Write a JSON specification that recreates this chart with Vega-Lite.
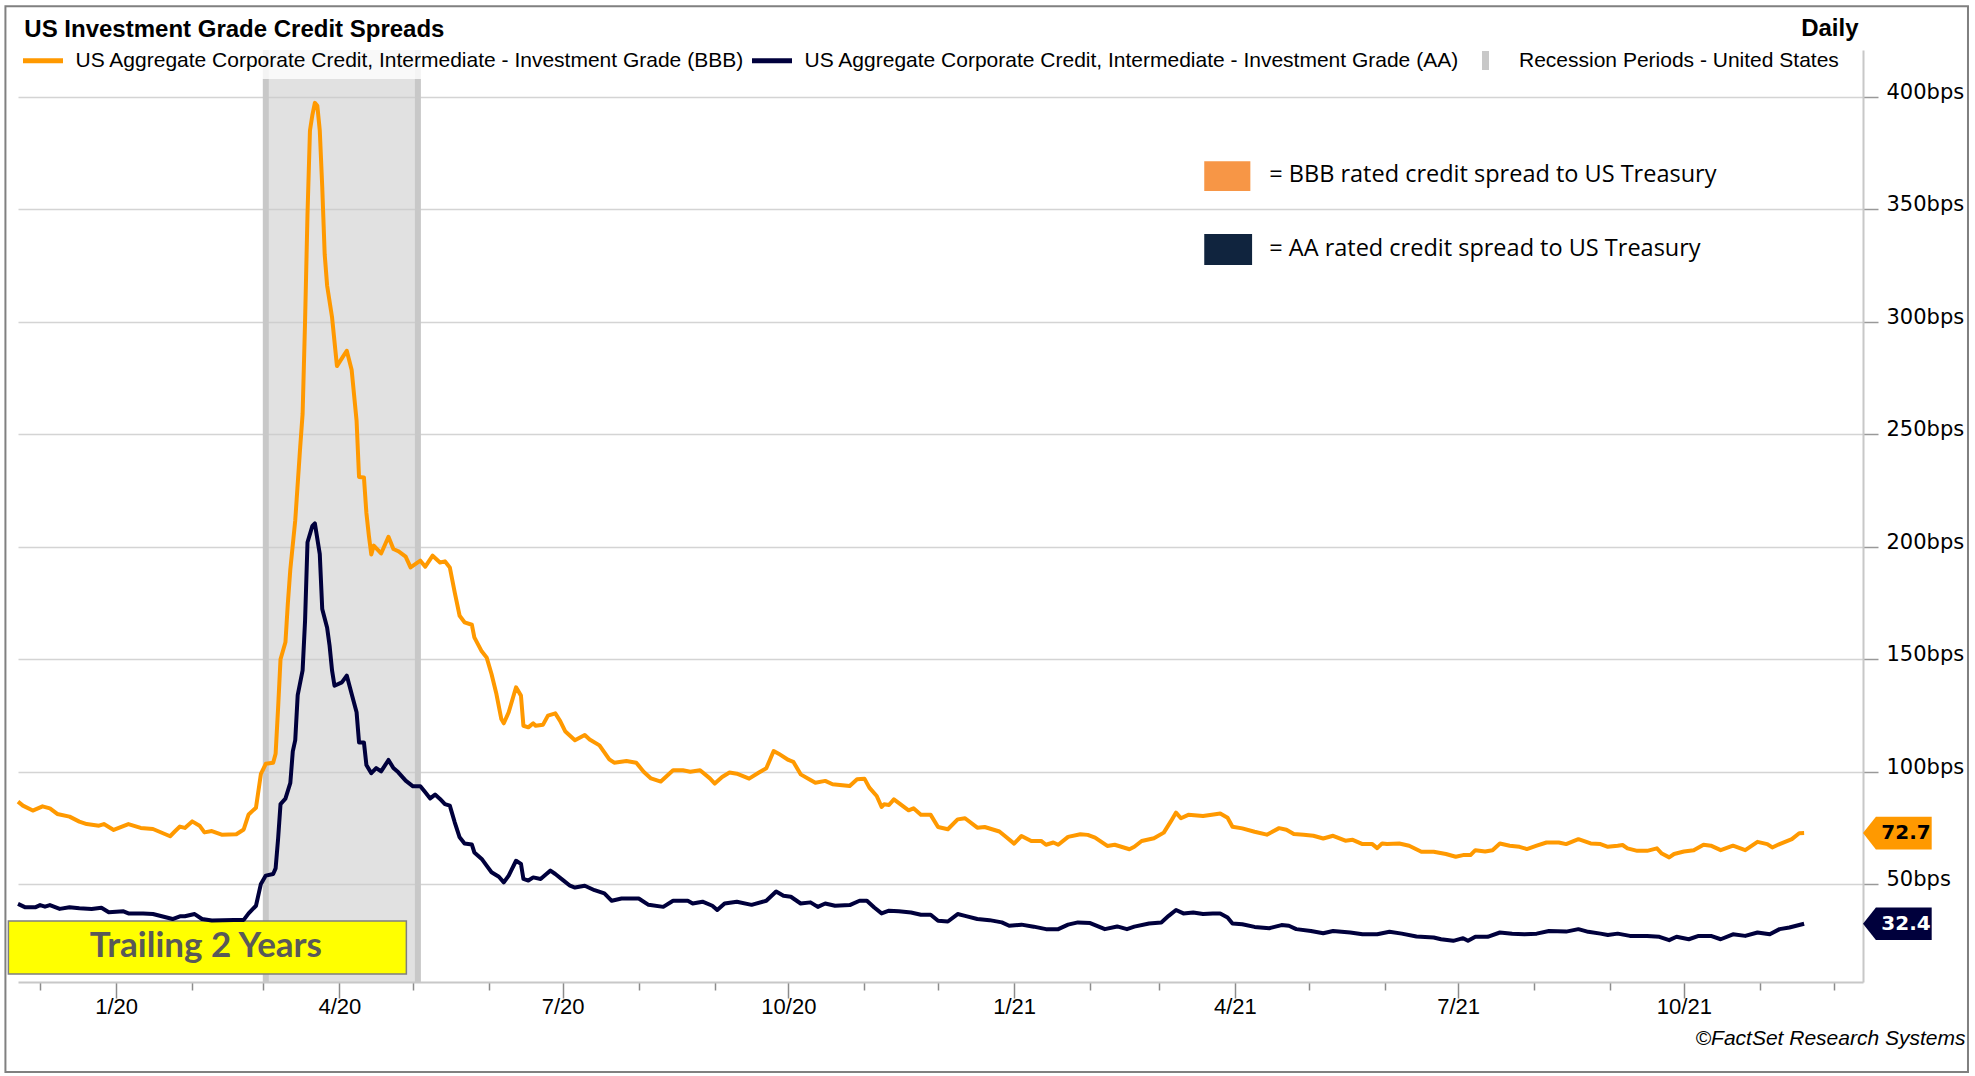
{
  "$schema": "https://vega.github.io/schema/vega-lite/v6.json",
  "width": 1845,
  "height": 932,
  "autosize": {"type": "none"},
  "padding": {"left": 18, "top": 50, "right": 112, "bottom": 94},
  "background": "white",
  "datasets": {
    "rec": [{"start": "2020-03-02", "end": "2020-05-03"}],
    "bbb": [
      {"d":"2019-11-22","v":86.7},{"d":"2019-11-24","v":84.9},{"d":"2019-11-28","v":82.7},{"d":"2019-12-02","v":84.6},{"d":"2019-12-05","v":83.7},{"d":"2019-12-08","v":81.2},{"d":"2019-12-13","v":80},{"d":"2019-12-17","v":77.8},{"d":"2019-12-20","v":76.7},{"d":"2019-12-25","v":76},{"d":"2019-12-27","v":76.7},{"d":"2019-12-31","v":74.1},
      {"d":"2020-01-06","v":76.7},{"d":"2020-01-11","v":75},{"d":"2020-01-16","v":74.5},{"d":"2020-01-23","v":71.3},{"d":"2020-01-25","v":73.5},{"d":"2020-01-27","v":75.6},{"d":"2020-01-29","v":75},{"d":"2020-02-01","v":77.9},{"d":"2020-02-04","v":76},{"d":"2020-02-06","v":73},{"d":"2020-02-09","v":73.6},{"d":"2020-02-13","v":72},{"d":"2020-02-19","v":72.2},{"d":"2020-02-22","v":74.3},{"d":"2020-02-24","v":81},{"d":"2020-02-27","v":84},{"d":"2020-02-29","v":99},
      {"d":"2020-03-02","v":103.5},{"d":"2020-03-05","v":104},{"d":"2020-03-06","v":108},{"d":"2020-03-07","v":128},{"d":"2020-03-08","v":150},{"d":"2020-03-10","v":157.5},{"d":"2020-03-11","v":175},{"d":"2020-03-12","v":190},{"d":"2020-03-14","v":211.7},{"d":"2020-03-16","v":244},{"d":"2020-03-17","v":259},{"d":"2020-03-18","v":300},{"d":"2020-03-19","v":348},{"d":"2020-03-20","v":385},{"d":"2020-03-21","v":392},{"d":"2020-03-22","v":397.3},{"d":"2020-03-23","v":396},{"d":"2020-03-24","v":385},{"d":"2020-03-25","v":360},{"d":"2020-03-26","v":330},{"d":"2020-03-27","v":316},{"d":"2020-03-29","v":302},{"d":"2020-03-31","v":280.3},
      {"d":"2020-04-02","v":283.7},{"d":"2020-04-04","v":287.1},{"d":"2020-04-06","v":278.5},{"d":"2020-04-08","v":256},{"d":"2020-04-09","v":231},{"d":"2020-04-11","v":230.8},{"d":"2020-04-12","v":215},{"d":"2020-04-13","v":205},{"d":"2020-04-14","v":196.5},{"d":"2020-04-15","v":200.5},{"d":"2020-04-18","v":197},{"d":"2020-04-21","v":204.4},{"d":"2020-04-23","v":199},{"d":"2020-04-25","v":198},{"d":"2020-04-28","v":195.6},{"d":"2020-04-30","v":190.8},
      {"d":"2020-05-04","v":193.8},{"d":"2020-05-06","v":191.1},{"d":"2020-05-09","v":196},{"d":"2020-05-12","v":193},{"d":"2020-05-14","v":193.5},{"d":"2020-05-16","v":190.8},{"d":"2020-05-18","v":179.7},{"d":"2020-05-20","v":169.3},{"d":"2020-05-22","v":166.4},{"d":"2020-05-25","v":165.3},{"d":"2020-05-26","v":159.7},{"d":"2020-05-29","v":153.5},{"d":"2020-05-31","v":150.8},
      {"d":"2020-06-02","v":143.4},{"d":"2020-06-04","v":134.5},{"d":"2020-06-06","v":123.4},{"d":"2020-06-07","v":121.5},{"d":"2020-06-09","v":126.4},{"d":"2020-06-12","v":137.5},{"d":"2020-06-14","v":133.8},{"d":"2020-06-15","v":120.4},{"d":"2020-06-17","v":119.7},{"d":"2020-06-19","v":121.5},{"d":"2020-06-20","v":120.4},{"d":"2020-06-23","v":120.9},{"d":"2020-06-25","v":124.9},{"d":"2020-06-28","v":125.9},{"d":"2020-06-30","v":122.5},
      {"d":"2020-07-02","v":118},{"d":"2020-07-04","v":116},{"d":"2020-07-06","v":114},{"d":"2020-07-10","v":116.3},{"d":"2020-07-12","v":114.3},{"d":"2020-07-16","v":111.7},{"d":"2020-07-20","v":105.5},{"d":"2020-07-22","v":104},{"d":"2020-07-27","v":104.7},{"d":"2020-07-31","v":104},
      {"d":"2020-08-03","v":100},{"d":"2020-08-06","v":97},{"d":"2020-08-10","v":95.6},{"d":"2020-08-15","v":100.6},{"d":"2020-08-19","v":100.6},{"d":"2020-08-22","v":100},{"d":"2020-08-26","v":100.6},{"d":"2020-08-30","v":97},
      {"d":"2020-09-01","v":94.7},{"d":"2020-09-04","v":97.6},{"d":"2020-09-07","v":99.6},{"d":"2020-09-10","v":99.1},{"d":"2020-09-15","v":96.9},{"d":"2020-09-19","v":99.6},{"d":"2020-09-22","v":101.5},{"d":"2020-09-25","v":109.2},{"d":"2020-09-27","v":108},
      {"d":"2020-10-01","v":105.2},{"d":"2020-10-03","v":104.4},{"d":"2020-10-06","v":98.8},{"d":"2020-10-10","v":96.3},{"d":"2020-10-12","v":95.1},{"d":"2020-10-16","v":95.9},{"d":"2020-10-19","v":94.4},{"d":"2020-10-22","v":94.1},{"d":"2020-10-26","v":93.6},{"d":"2020-10-29","v":96.6},
      {"d":"2020-11-01","v":96.9},{"d":"2020-11-03","v":92.9},{"d":"2020-11-06","v":89.2},{"d":"2020-11-08","v":84.3},{"d":"2020-11-09","v":85.5},{"d":"2020-11-11","v":85.2},{"d":"2020-11-13","v":87.7},{"d":"2020-11-16","v":85.2},{"d":"2020-11-19","v":82.8},{"d":"2020-11-21","v":83.7},{"d":"2020-11-24","v":80.8},{"d":"2020-11-28","v":80.8},
      {"d":"2020-12-01","v":75.4},{"d":"2020-12-05","v":74.4},{"d":"2020-12-09","v":78.8},{"d":"2020-12-12","v":79.3},{"d":"2020-12-17","v":75.1},{"d":"2020-12-20","v":75.4},{"d":"2020-12-26","v":73.4},{"d":"2020-12-29","v":70.7},
      {"d":"2021-01-01","v":68},{"d":"2021-01-04","v":71.4},{"d":"2021-01-08","v":69.2},{"d":"2021-01-12","v":69.2},{"d":"2021-01-14","v":67.5},{"d":"2021-01-17","v":68.5},{"d":"2021-01-19","v":67.5},{"d":"2021-01-23","v":71},{"d":"2021-01-28","v":72.2},{"d":"2021-01-31","v":71.9},
      {"d":"2021-02-03","v":70.7},{"d":"2021-02-08","v":67},{"d":"2021-02-11","v":67.5},{"d":"2021-02-17","v":65.5},{"d":"2021-02-19","v":66.6},{"d":"2021-02-22","v":69.2},{"d":"2021-02-27","v":70.4},
      {"d":"2021-03-03","v":72.9},{"d":"2021-03-06","v":78.1},{"d":"2021-03-08","v":81.8},{"d":"2021-03-10","v":79.3},{"d":"2021-03-13","v":80.8},{"d":"2021-03-19","v":80.3},{"d":"2021-03-24","v":81.1},{"d":"2021-03-26","v":81.4},{"d":"2021-03-29","v":79.5},{"d":"2021-03-31","v":75.5},
      {"d":"2021-04-04","v":74.8},{"d":"2021-04-09","v":73.3},{"d":"2021-04-14","v":72},{"d":"2021-04-19","v":74.9},{"d":"2021-04-22","v":74.2},{"d":"2021-04-25","v":72.3},{"d":"2021-04-29","v":72},
      {"d":"2021-05-03","v":71.5},{"d":"2021-05-07","v":70.3},{"d":"2021-05-11","v":71.5},{"d":"2021-05-16","v":69.3},{"d":"2021-05-19","v":69.7},{"d":"2021-05-23","v":67.8},{"d":"2021-05-27","v":67.8},{"d":"2021-05-29","v":66},{"d":"2021-05-31","v":68.1},
      {"d":"2021-06-02","v":67.8},{"d":"2021-06-07","v":68.1},{"d":"2021-06-11","v":67.1},{"d":"2021-06-16","v":64.4},{"d":"2021-06-21","v":64.4},{"d":"2021-06-26","v":63.4},{"d":"2021-06-30","v":62.2},
      {"d":"2021-07-03","v":62.9},{"d":"2021-07-06","v":62.9},{"d":"2021-07-08","v":65.1},{"d":"2021-07-12","v":64.5},{"d":"2021-07-15","v":65.1},{"d":"2021-07-18","v":68.1},{"d":"2021-07-22","v":67.1},{"d":"2021-07-26","v":66.6},{"d":"2021-07-29","v":65.6},
      {"d":"2021-08-02","v":67.1},{"d":"2021-08-06","v":68.5},{"d":"2021-08-11","v":68.5},{"d":"2021-08-14","v":67.8},{"d":"2021-08-19","v":70},{"d":"2021-08-24","v":68.1},{"d":"2021-08-28","v":67.8},{"d":"2021-08-31","v":66.6},
      {"d":"2021-09-04","v":67.1},{"d":"2021-09-06","v":67.4},{"d":"2021-09-08","v":65.9},{"d":"2021-09-12","v":64.8},{"d":"2021-09-16","v":64.8},{"d":"2021-09-20","v":65.9},{"d":"2021-09-22","v":63.6},{"d":"2021-09-25","v":61.9},{"d":"2021-09-27","v":63.4},
      {"d":"2021-10-01","v":64.5},{"d":"2021-10-05","v":65.1},{"d":"2021-10-09","v":67.5},{"d":"2021-10-12","v":67.1},{"d":"2021-10-16","v":65.1},{"d":"2021-10-21","v":67.1},{"d":"2021-10-26","v":65.1},{"d":"2021-10-31","v":68.8},
      {"d":"2021-11-04","v":67.8},{"d":"2021-11-06","v":66.3},{"d":"2021-11-09","v":67.8},{"d":"2021-11-14","v":70},{"d":"2021-11-17","v":72.6},{"d":"2021-11-19","v":72.7}
    ],
    "aa": [
      {"d":"2019-11-22","v":41.2},{"d":"2019-11-25","v":39.7},{"d":"2019-11-29","v":39.7},{"d":"2019-12-01","v":40.7},{"d":"2019-12-03","v":40},{"d":"2019-12-05","v":40.7},{"d":"2019-12-09","v":39},{"d":"2019-12-13","v":39.7},{"d":"2019-12-17","v":39.3},{"d":"2019-12-22","v":39},{"d":"2019-12-26","v":39.5},{"d":"2019-12-29","v":37.5},
      {"d":"2020-01-04","v":37.9},{"d":"2020-01-06","v":37},{"d":"2020-01-12","v":37},{"d":"2020-01-16","v":36.7},{"d":"2020-01-24","v":34.5},{"d":"2020-01-27","v":35.7},{"d":"2020-01-29","v":35.7},{"d":"2020-02-02","v":36.7},{"d":"2020-02-05","v":34.5},{"d":"2020-02-09","v":33.8},{"d":"2020-02-18","v":34.1},{"d":"2020-02-22","v":34.1},{"d":"2020-02-24","v":37},{"d":"2020-02-27","v":40.4},{"d":"2020-02-29","v":50.1},
      {"d":"2020-03-02","v":53.8},{"d":"2020-03-05","v":54.5},{"d":"2020-03-06","v":57},{"d":"2020-03-07","v":70},{"d":"2020-03-08","v":85.6},{"d":"2020-03-10","v":88},{"d":"2020-03-12","v":95},{"d":"2020-03-13","v":109},{"d":"2020-03-14","v":114},{"d":"2020-03-15","v":134},{"d":"2020-03-17","v":145},{"d":"2020-03-18","v":167},{"d":"2020-03-19","v":202},{"d":"2020-03-21","v":209.3},{"d":"2020-03-22","v":210.4},{"d":"2020-03-24","v":196.7},{"d":"2020-03-25","v":172.3},{"d":"2020-03-27","v":164},{"d":"2020-03-28","v":156},{"d":"2020-03-29","v":145},{"d":"2020-03-30","v":138.2},
      {"d":"2020-04-02","v":139.7},{"d":"2020-04-04","v":142.7},{"d":"2020-04-06","v":134.5},{"d":"2020-04-08","v":126.4},{"d":"2020-04-09","v":113},{"d":"2020-04-11","v":113},{"d":"2020-04-12","v":103},{"d":"2020-04-14","v":99.3},{"d":"2020-04-16","v":101.6},{"d":"2020-04-18","v":100.1},{"d":"2020-04-21","v":105.2},{"d":"2020-04-23","v":101.6},{"d":"2020-04-25","v":99.7},{"d":"2020-04-28","v":96},
      {"d":"2020-05-01","v":93.5},{"d":"2020-05-04","v":93.5},{"d":"2020-05-06","v":90.8},{"d":"2020-05-08","v":88.1},{"d":"2020-05-10","v":89.8},{"d":"2020-05-12","v":87.9},{"d":"2020-05-14","v":85.6},{"d":"2020-05-16","v":84.9},{"d":"2020-05-18","v":77.5},{"d":"2020-05-20","v":70.8},{"d":"2020-05-22","v":68.1},{"d":"2020-05-25","v":67.6},{"d":"2020-05-26","v":64.1},{"d":"2020-05-29","v":61.2},{"d":"2020-05-31","v":58.2},
      {"d":"2020-06-02","v":55.3},{"d":"2020-06-05","v":53.3},{"d":"2020-06-07","v":50.8},{"d":"2020-06-09","v":53.8},{"d":"2020-06-10","v":56},{"d":"2020-06-12","v":60.4},{"d":"2020-06-14","v":59},{"d":"2020-06-15","v":52.3},{"d":"2020-06-17","v":51.6},{"d":"2020-06-19","v":53},{"d":"2020-06-22","v":52.3},{"d":"2020-06-24","v":54.2},{"d":"2020-06-26","v":56},{"d":"2020-06-28","v":54.5},
      {"d":"2020-07-01","v":51.9},{"d":"2020-07-04","v":49.3},{"d":"2020-07-06","v":48.5},{"d":"2020-07-10","v":49.3},{"d":"2020-07-14","v":47.3},{"d":"2020-07-18","v":45.9},{"d":"2020-07-21","v":42.6},{"d":"2020-07-25","v":43.6},
      {"d":"2020-08-01","v":43.6},{"d":"2020-08-05","v":40.8},{"d":"2020-08-11","v":39.9},{"d":"2020-08-15","v":42.6},{"d":"2020-08-21","v":42.6},{"d":"2020-08-23","v":41.4},{"d":"2020-08-27","v":42.2},{"d":"2020-08-31","v":40.4},
      {"d":"2020-09-02","v":38.5},{"d":"2020-09-05","v":41.4},{"d":"2020-09-10","v":42.2},{"d":"2020-09-16","v":40.8},{"d":"2020-09-22","v":42.6},{"d":"2020-09-26","v":46.7},{"d":"2020-09-29","v":44.8},
      {"d":"2020-10-02","v":44.4},{"d":"2020-10-06","v":41.4},{"d":"2020-10-10","v":41.9},{"d":"2020-10-13","v":39.9},{"d":"2020-10-16","v":41.4},{"d":"2020-10-20","v":40.4},{"d":"2020-10-26","v":40.7},{"d":"2020-10-30","v":42.6},
      {"d":"2020-11-02","v":42.6},{"d":"2020-11-05","v":39.6},{"d":"2020-11-08","v":37},{"d":"2020-11-11","v":38.2},{"d":"2020-11-15","v":37.9},{"d":"2020-11-20","v":37.4},{"d":"2020-11-24","v":36.4},{"d":"2020-11-28","v":36.4},
      {"d":"2020-12-01","v":33.7},{"d":"2020-12-05","v":33.4},{"d":"2020-12-09","v":36.7},{"d":"2020-12-12","v":35.9},{"d":"2020-12-17","v":34.5},{"d":"2020-12-22","v":34},{"d":"2020-12-27","v":33},{"d":"2020-12-30","v":31.5},
      {"d":"2021-01-04","v":32},{"d":"2021-01-09","v":31.1},{"d":"2021-01-14","v":30},{"d":"2021-01-19","v":30},{"d":"2021-01-23","v":32},{"d":"2021-01-27","v":33},
      {"d":"2021-02-01","v":32.7},{"d":"2021-02-07","v":30},{"d":"2021-02-12","v":31.2},{"d":"2021-02-16","v":30},{"d":"2021-02-19","v":31.1},{"d":"2021-02-25","v":32.5},
      {"d":"2021-03-02","v":33},{"d":"2021-03-05","v":35.9},{"d":"2021-03-08","v":38.5},{"d":"2021-03-11","v":37},{"d":"2021-03-15","v":37.4},{"d":"2021-03-19","v":36.7},{"d":"2021-03-23","v":37},{"d":"2021-03-26","v":37},{"d":"2021-03-29","v":35.2},{"d":"2021-03-31","v":32.5},
      {"d":"2021-04-04","v":32.2},{"d":"2021-04-09","v":31},{"d":"2021-04-15","v":30.4},{"d":"2021-04-20","v":31.8},{"d":"2021-04-23","v":31.5},{"d":"2021-04-26","v":30},
      {"d":"2021-05-02","v":29.2},{"d":"2021-05-07","v":28.2},{"d":"2021-05-11","v":29.2},{"d":"2021-05-18","v":28.5},{"d":"2021-05-23","v":27.7},{"d":"2021-05-29","v":27.7},
      {"d":"2021-06-03","v":28.8},{"d":"2021-06-08","v":28},{"d":"2021-06-14","v":26.7},{"d":"2021-06-21","v":26.3},{"d":"2021-06-24","v":25.5},{"d":"2021-06-29","v":24.8},
      {"d":"2021-07-03","v":26},{"d":"2021-07-05","v":24.8},{"d":"2021-07-08","v":26.6},{"d":"2021-07-13","v":26.6},{"d":"2021-07-18","v":28.5},{"d":"2021-07-23","v":28},{"d":"2021-07-28","v":27.7},
      {"d":"2021-08-02","v":28},{"d":"2021-08-07","v":29.2},{"d":"2021-08-14","v":28.9},{"d":"2021-08-19","v":30},{"d":"2021-08-23","v":28.8},{"d":"2021-08-28","v":28},{"d":"2021-08-31","v":27.4},
      {"d":"2021-09-04","v":28},{"d":"2021-09-09","v":27},{"d":"2021-09-16","v":27},{"d":"2021-09-21","v":26.6},{"d":"2021-09-25","v":25.1},{"d":"2021-09-28","v":26.6},
      {"d":"2021-10-03","v":25.5},{"d":"2021-10-07","v":27},{"d":"2021-10-12","v":27},{"d":"2021-10-16","v":25.5},{"d":"2021-10-21","v":27.7},{"d":"2021-10-26","v":27},{"d":"2021-10-31","v":28.5},
      {"d":"2021-11-05","v":27.7},{"d":"2021-11-09","v":30},{"d":"2021-11-13","v":30.7},{"d":"2021-11-19","v":32.4}
    ]
  },
  "layer": [
    {
      "data": {"values": [{}]},
      "mark": {"type": "rect", "fillOpacity": 0, "stroke": "#808080", "strokeWidth": 2},
      "encoding": {
        "x": {"datum": {"year": 2019, "month": 11, "date": 16, "hours": 21, "utc": true}, "type": "temporal"},
        "x2": {"datum": {"year": 2022, "month": 1, "date": 24, "hours": 19, "utc": true}},
        "y": {"datum": 440.3, "type": "quantitative"},
        "y2": {"datum": -33.5}
      }
    },
    {
      "data": {"values": [{}]},
      "mark": {"type": "text", "text": "US Investment Grade Credit Spreads", "font": "Liberation Sans", "fontSize": 24, "fontWeight": "bold", "color": "#000000", "align": "left", "baseline": "middle"},
      "encoding": {
        "x": {"datum": {"year": 2019, "month": 11, "date": 24, "hours": 14, "utc": true}, "type": "temporal"},
        "y": {"datum": 429.6, "type": "quantitative"}
      }
    },
    {
      "data": {"name": "rec"},
      "mark": {"type": "rect", "fillOpacity": 0.55, "strokeWidth": 0},
      "encoding": {
        "x": {"field": "start", "type": "temporal"},
        "x2": {"field": "end"},
        "fill": {"datum": "Recession Periods - United States", "scale": {"range": ["#c8c8c8"]},
          "legend": {"orient": "none", "legendX": 1457, "legendY": 0, "title": null, "symbolType": "M-0.37,-1H0.37V1H-0.37Z", "symbolSize": 361, "symbolStrokeWidth": 0, "symbolOpacity": 1, "labelFont": "Liberation Sans", "labelFontSize": 21, "labelColor": "#000000", "labelOffset": 23, "padding": 0, "labelLimit": 1000}}
      }
    },
    {
      "data": {"name": "rec"},
      "mark": {"type": "rule", "color": "#c8c8c8", "strokeWidth": 6},
      "encoding": {"x": {"field": "start", "type": "temporal"}}
    },
    {
      "data": {"name": "rec"},
      "mark": {"type": "rule", "color": "#c8c8c8", "strokeWidth": 6},
      "encoding": {"x": {"field": "end", "type": "temporal"}}
    },
    {
      "data": {"values": [{}]},
      "mark": {"type": "rect", "fill": "#ffffff", "fillOpacity": 0.8, "strokeWidth": 0},
      "encoding": {
        "x": {"datum": {"year": 2019, "month": 11, "date": 22, "utc": true}, "type": "temporal"},
        "x2": {"datum": {"year": 2021, "month": 12, "date": 1, "utc": true}},
        "y": {"datum": 420.8, "type": "quantitative"},
        "y2": {"datum": 407.9}
      }
    },
    {
      "data": {"values": [{}]},
      "mark": {"type": "rect", "fill": "#ffff00", "stroke": "#7f7f7f", "strokeWidth": 1.5},
      "encoding": {
        "x": {"datum": {"year": 2019, "month": 11, "date": 18, "hours": 2, "utc": true}, "type": "temporal"},
        "x2": {"datum": {"year": 2020, "month": 4, "date": 28, "hours": 7, "utc": true}},
        "y": {"datum": 33.6, "type": "quantitative"},
        "y2": {"datum": 10.1}
      }
    },
    {
      "data": {"values": [{}]},
      "mark": {"type": "text", "text": "Trailing 2 Years", "font": "Lato", "fontSize": 35, "fontWeight": "bold", "color": "#595959", "align": "center", "baseline": "middle"},
      "encoding": {
        "x": {"datum": {"year": 2020, "month": 2, "date": 6, "hours": 14, "utc": true}, "type": "temporal"},
        "y": {"datum": 22.5, "type": "quantitative"}
      }
    },
    {
      "data": {"values": [{}]},
      "mark": {"type": "rect", "fill": "#f79646"},
      "encoding": {
        "x": {"datum": {"year": 2021, "month": 3, "date": 19, "hours": 12, "utc": true}, "type": "temporal"},
        "x2": {"datum": {"year": 2021, "month": 4, "date": 7, "hours": 7, "utc": true}},
        "y": {"datum": 371.4, "type": "quantitative"},
        "y2": {"datum": 358.1}
      }
    },
    {
      "data": {"values": [{}]},
      "mark": {"type": "rect", "fill": "#10243e"},
      "encoding": {
        "x": {"datum": {"year": 2021, "month": 3, "date": 19, "hours": 12, "utc": true}, "type": "temporal"},
        "x2": {"datum": {"year": 2021, "month": 4, "date": 8, "utc": true}},
        "y": {"datum": 339.0, "type": "quantitative"},
        "y2": {"datum": 325.2}
      }
    },
    {
      "data": {"values": [{}]},
      "mark": {"type": "text", "text": "= BBB rated credit spread to US Treasury", "font": "Open Sans", "fontSize": 23.5, "color": "#000000", "align": "left", "baseline": "middle"},
      "encoding": {
        "x": {"datum": {"year": 2021, "month": 4, "date": 15, "utc": true}, "type": "temporal"},
        "y": {"datum": 365.2, "type": "quantitative"}
      }
    },
    {
      "data": {"values": [{}]},
      "mark": {"type": "text", "text": "= AA rated credit spread to US Treasury", "font": "Open Sans", "fontSize": 23.5, "color": "#000000", "align": "left", "baseline": "middle"},
      "encoding": {
        "x": {"datum": {"year": 2021, "month": 4, "date": 15, "utc": true}, "type": "temporal"},
        "y": {"datum": 332.3, "type": "quantitative"}
      }
    },
    {
      "data": {"name": "bbb"},
      "mark": {"type": "line", "strokeWidth": 4, "strokeJoin": "round"},
      "encoding": {
        "x": {"field": "d", "type": "temporal",
          "scale": {"type": "utc", "domain": [{"year": 2019, "month": 11, "date": 22, "utc": true}, {"year": 2021, "month": 12, "date": 13, "utc": true}]},
          "axis": {
            "title": "©FactSet Research Systems", "titleFont": "Liberation Sans", "titleFontSize": 21, "titleFontStyle": "italic", "titleFontWeight": "normal", "titleColor": "#000000",
            "titleX": 1947, "titleY": 56, "titleAlign": "right", "titleBaseline": "middle",
            "tickCount": {"interval": "month", "step": 1},
            "labelExpr": "utcmonth(datum.value) % 3 == 0 ? (utcmonth(datum.value) + 1) + '/' + utcFormat(datum.value, '%y') : ''",
            "labelFont": "Liberation Sans", "labelFontSize": 22, "labelColor": "#000000", "labelPadding": -2, "labelOverlap": false, "labelFlush": false,
            "tickSize": {"condition": {"test": "utcmonth(datum.value) % 3 == 0", "value": 16}, "value": 8},
            "tickColor": "#8c8c8c", "tickWidth": 1.5,
            "domainColor": "#c8c8c8", "domainWidth": 2, "grid": false
          }
        },
        "y": {"field": "v", "type": "quantitative",
          "scale": {"domain": [6.5, 420.8], "nice": false, "zero": false},
          "axis": {
            "orient": "right", "values": [50, 100, 150, 200, 250, 300, 350, 400],
            "labelExpr": "datum.value + 'bps'",
            "labelFont": "DejaVu Sans", "labelFontSize": 21, "labelColor": "#000000", "labelBaseline": "alphabetic", "labelOffset": 1.5, "labelPadding": 8,
            "tickSize": 15, "tickColor": "#999999", "tickWidth": 1.5,
            "grid": true, "gridColor": "#d4d4d4", "gridWidth": 1.5,
            "domainColor": "#c8c8c8", "domainWidth": 2,
            "title": "Daily", "titleAngle": 0, "titleX": -5, "titleY": -22, "titleAlign": "right", "titleBaseline": "middle",
            "titleFont": "Liberation Sans", "titleFontSize": 24, "titleFontWeight": "bold", "titleColor": "#000000"
          }
        },
        "stroke": {"datum": "US Aggregate Corporate Credit, Intermediate - Investment Grade (BBB)",
          "scale": {"domain": ["US Aggregate Corporate Credit, Intermediate - Investment Grade (BBB)", "US Aggregate Corporate Credit, Intermediate - Investment Grade (AA)"], "range": ["#ff9900", "#00003c"]},
          "legend": {"orient": "none", "legendX": 2.5, "legendY": -12, "direction": "horizontal", "columns": 2, "title": null, "symbolType": "stroke", "symbolSize": 1600, "symbolStrokeWidth": 5, "labelFont": "Liberation Sans", "labelFontSize": 21, "labelColor": "#000000", "labelOffset": 10, "columnPadding": -3, "padding": 0, "labelLimit": 1000}}
      }
    },
    {
      "data": {"name": "aa"},
      "mark": {"type": "line", "strokeWidth": 4, "strokeJoin": "round"},
      "encoding": {
        "x": {"field": "d", "type": "temporal"},
        "y": {"field": "v", "type": "quantitative"},
        "stroke": {"datum": "US Aggregate Corporate Credit, Intermediate - Investment Grade (AA)"}
      }
    },
    {
      "data": {"name": "bbb"},
      "transform": [{"filter": "time(datum.d) == time('2021-11-19')"}],
      "mark": {"type": "point", "shape": "M0,0L0.38,-0.48L2.02,-0.48L2.02,0.48L0.38,0.48Z", "size": 4624, "filled": true, "color": "#ff9900", "opacity": 1, "strokeWidth": 0},
      "encoding": {
        "x": {"datum": {"year": 2021, "month": 12, "date": 13, "utc": true}, "type": "temporal"},
        "y": {"field": "v", "type": "quantitative"}
      }
    },
    {
      "data": {"name": "bbb"},
      "transform": [{"filter": "time(datum.d) == time('2021-11-19')"}],
      "mark": {"type": "text", "dx": 43, "font": "DejaVu Sans", "fontSize": 20, "fontWeight": "bold", "color": "#000000", "align": "center", "baseline": "middle"},
      "encoding": {
        "x": {"datum": {"year": 2021, "month": 12, "date": 13, "utc": true}, "type": "temporal"},
        "y": {"field": "v", "type": "quantitative"},
        "text": {"field": "v", "type": "quantitative", "format": ".1f"}
      }
    },
    {
      "data": {"name": "aa"},
      "transform": [{"filter": "time(datum.d) == time('2021-11-19')"}],
      "mark": {"type": "point", "shape": "M0,0L0.38,-0.48L2.02,-0.48L2.02,0.48L0.38,0.48Z", "size": 4624, "filled": true, "color": "#00003c", "opacity": 1, "strokeWidth": 0},
      "encoding": {
        "x": {"datum": {"year": 2021, "month": 12, "date": 13, "utc": true}, "type": "temporal"},
        "y": {"field": "v", "type": "quantitative"}
      }
    },
    {
      "data": {"name": "aa"},
      "transform": [{"filter": "time(datum.d) == time('2021-11-19')"}],
      "mark": {"type": "text", "dx": 43, "font": "DejaVu Sans", "fontSize": 20, "fontWeight": "bold", "color": "#ffffff", "align": "center", "baseline": "middle"},
      "encoding": {
        "x": {"datum": {"year": 2021, "month": 12, "date": 13, "utc": true}, "type": "temporal"},
        "y": {"field": "v", "type": "quantitative"},
        "text": {"field": "v", "type": "quantitative", "format": ".1f"}
      }
    }
  ],
  "config": {"view": {"stroke": null}, "font": "Liberation Sans"}
}
